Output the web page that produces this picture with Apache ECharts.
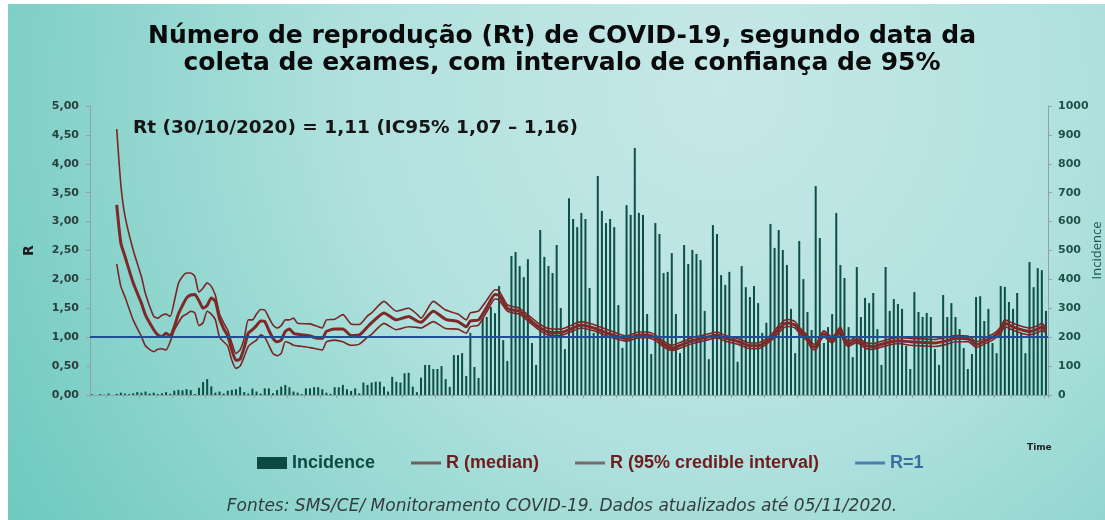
<!DOCTYPE html>
<html>
<head>
<meta charset="utf-8">
<script src="https://cdn.jsdelivr.net/npm/echarts@6/dist/echarts.min.js"></script>
<style>
  html, body { margin: 0; padding: 0; background: #fff; }
  #main { width: 1105px; height: 520px; }
</style>
</head>
<body>
<div id="main"></div>
<script>
// casos por data de coleta (barras, eixo direito)
var incidence = [
  2, 0, 3, 1, 5, 0, 4, 8, 5, 3, 6, 10, 8, 12, 5, 8, 3, 6, 10, 4,
  15, 18, 16, 20, 17, 3, 25, 45, 55, 30, 8, 12, 5, 15, 18, 20, 28, 10, 5, 22,
  12, 5, 23, 23, 6, 17, 29, 35, 27, 12, 8, 3, 23, 23, 27, 27, 20, 8, 4, 27,
  27, 35, 20, 14, 23, 6, 43, 35, 43, 46, 46, 29, 12, 63, 46, 43, 75, 77, 29, 10, 60,
  104, 104, 90, 90, 100, 55, 28, 138, 138, 145, 66, 215, 97, 59, 266, 270, 305, 283, 377, 190,
  118, 481, 495, 446, 408, 470, 180, 104, 571, 478, 446, 422, 519, 301, 159, 681, 609, 581,
  630, 609, 370, 215, 758, 637, 595, 609, 581, 311, 163, 657, 623, 855, 630, 623, 280, 142, 595, 557,
  422, 426, 491, 280, 145, 519, 453, 502, 488, 467, 291, 124, 588, 557, 415, 381, 426,
  200, 115, 446, 373, 339, 377, 318, 215, 250, 592, 509, 571, 502, 450, 298, 145, 533, 401, 287, 225,
  723, 543, 180, 235, 280, 630, 450, 405, 235, 131, 443, 270, 336, 318, 353, 228, 104,
  443, 291, 332, 315, 298, 170, 90, 356, 287, 270, 284, 270, 159, 104, 346, 270, 318, 270, 228, 163,
  90, 142, 339, 342, 256, 298, 180, 145, 377, 374, 322, 298, 353, 215, 145, 460, 373, 439, 432, 291
];
var days = incidence.map(function (v, i) { return 'D' + (i + 1); });

// Rt: dia (indice) e valores
var rIdx = [6, 7, 8, 10, 12, 13, 15, 16, 17, 18, 19, 20, 21, 22, 23, 24, 25, 26, 27, 28, 29, 30,
  31, 32, 33, 34, 35, 36, 37, 38, 39, 40, 41, 42, 43, 44, 45, 46, 47, 48, 49, 50, 53, 55, 56, 57,
  59, 61, 63, 65, 67, 68, 71, 74, 77, 79, 80, 83, 86, 89, 91, 92, 94, 96, 98, 99, 101, 103, 104,
  107, 109, 111, 114, 116, 119, 122, 125, 128, 130, 133, 135, 137, 139, 141, 143, 146, 149, 152,
  154, 157, 160, 162, 165, 167, 169, 171, 172, 174, 175, 176, 177, 178, 180, 182, 183, 184, 186,
  188, 190, 193, 196, 199, 202, 205, 208, 210, 213, 214, 215, 217, 219, 220, 221, 222, 224, 226,
  228, 230, 231, 232];
var rMed = [3.29, 2.63, 2.40, 1.94, 1.59, 1.38, 1.13, 1.04, 1.01, 1.07, 1.02, 1.18, 1.40, 1.55, 1.68,
  1.73, 1.74, 1.63, 1.50, 1.55, 1.68, 1.62, 1.32, 1.15, 1.02, 0.78, 0.60, 0.62, 0.82, 1.07, 1.13,
  1.20, 1.28, 1.27, 1.12, 0.98, 0.92, 0.95, 1.10, 1.14, 1.07, 1.05, 1.02, 0.98, 0.98, 1.10, 1.14,
  1.14, 1.03, 1.04, 1.18, 1.25, 1.42, 1.30, 1.36, 1.28, 1.26, 1.45, 1.31, 1.27, 1.18, 1.28, 1.30,
  1.52, 1.74, 1.72, 1.50, 1.46, 1.45, 1.27, 1.16, 1.09, 1.08, 1.13, 1.21, 1.16, 1.08, 1.01, 0.97,
  1.04, 1.04, 0.99, 0.88, 0.81, 0.86, 0.94, 0.99, 1.04, 0.98, 0.93, 0.85, 0.85, 0.98, 1.14, 1.25,
  1.21, 1.12, 0.98, 0.85, 0.82, 0.97, 1.06, 0.95, 1.13, 0.95, 0.88, 0.96, 0.86, 0.84, 0.90, 0.94,
  0.92, 0.91, 0.90, 0.94, 0.98, 0.97, 0.93, 0.87, 0.93, 1.00, 1.05, 1.12, 1.24, 1.18, 1.13, 1.10,
  1.14, 1.18, 1.11];
var rHigh = [4.60, 3.64, 3.10, 2.51, 2.05, 1.75, 1.36, 1.33, 1.38, 1.40, 1.36, 1.62, 1.93, 2.05, 2.11,
  2.11, 2.05, 1.78, 1.85, 1.94, 1.88, 1.72, 1.40, 1.25, 1.12, 0.90, 0.72, 0.78, 0.98, 1.30, 1.30,
  1.40, 1.48, 1.47, 1.34, 1.21, 1.16, 1.20, 1.30, 1.30, 1.33, 1.24, 1.23, 1.18, 1.16, 1.30, 1.31,
  1.39, 1.23, 1.22, 1.37, 1.42, 1.62, 1.45, 1.50, 1.40, 1.33, 1.62, 1.47, 1.40, 1.30, 1.42, 1.45,
  1.64, 1.82, 1.80, 1.56, 1.52, 1.50, 1.33, 1.22, 1.15, 1.14, 1.19, 1.27, 1.22, 1.14, 1.06, 1.02,
  1.09, 1.09, 1.04, 0.93, 0.86, 0.91, 0.99, 1.04, 1.09, 1.03, 0.98, 0.90, 0.90, 1.03, 1.20, 1.31,
  1.27, 1.17, 1.03, 0.90, 0.87, 1.02, 1.11, 1.00, 1.18, 1.00, 0.93, 1.01, 0.91, 0.89, 0.95, 0.99,
  0.98, 0.97, 0.96, 1.00, 1.03, 1.02, 0.98, 0.92, 0.98, 1.05, 1.10, 1.18, 1.30, 1.24, 1.19, 1.16,
  1.20, 1.24, 1.16];
var rLow = [2.27, 1.88, 1.70, 1.30, 1.01, 0.85, 0.75, 0.79, 0.80, 0.78, 0.92, 1.12, 1.25, 1.36, 1.40,
  1.45, 1.42, 1.20, 1.25, 1.45, 1.40, 1.30, 1.00, 0.92, 0.85, 0.60, 0.46, 0.50, 0.66, 0.84, 0.90,
  0.95, 1.04, 1.00, 0.86, 0.72, 0.68, 0.72, 0.92, 0.90, 0.86, 0.85, 0.82, 0.79, 0.78, 0.92, 0.95,
  0.92, 0.86, 0.88, 1.00, 1.05, 1.24, 1.13, 1.18, 1.17, 1.16, 1.27, 1.15, 1.14, 1.07, 1.18, 1.21,
  1.44, 1.66, 1.64, 1.45, 1.41, 1.40, 1.22, 1.11, 1.04, 1.03, 1.08, 1.16, 1.11, 1.03, 0.96, 0.93,
  0.99, 0.99, 0.94, 0.83, 0.77, 0.81, 0.89, 0.94, 0.99, 0.93, 0.88, 0.80, 0.80, 0.93, 1.08, 1.19,
  1.16, 1.07, 0.93, 0.80, 0.78, 0.92, 1.01, 0.90, 1.08, 0.90, 0.84, 0.91, 0.81, 0.79, 0.85, 0.89,
  0.86, 0.85, 0.84, 0.88, 0.92, 0.92, 0.88, 0.82, 0.88, 0.95, 1.00, 1.06, 1.18, 1.12, 1.07, 1.04,
  1.08, 1.12, 1.07];

function pairs(vals) {
  return rIdx.map(function (d, k) { return [d, vals[k]]; });
}

var myChart = echarts.init(document.getElementById('main'));

var redDark = '#7a2626';
var lineIcon = 'path://M0 0H30V3H0Z';
var option = {
  backgroundColor: '#ffffff',
  animation: false,
  graphic: [
    {
      type: 'rect', z: -10, silent: true,
      shape: { x: 8, y: 4, width: 1097, height: 516 },
      style: {
        fill: new echarts.graphic.RadialGradient(720, 90, 820, [
          { offset: 0, color: '#c6e8e7' },
          { offset: 0.45, color: '#b0e1de' },
          { offset: 1, color: '#6fcabf' }
        ], true)
      }
    },
    {
      type: 'text', x: 562, y: 23, z: 5,
      style: {
        text: 'Número de reprodução (Rt) de COVID-19, segundo data da\ncoleta de exames, com intervalo de confiança de 95%',
        textAlign: 'center',
        fontFamily: 'DejaVu Sans', fontWeight: 'bold', fontSize: 25, lineHeight: 27, fill: '#0a0a0a'
      }
    },
    {
      type: 'text', x: 133, y: 119, z: 5,
      style: {
        text: 'Rt (30/10/2020) = 1,11 (IC95% 1,07 – 1,16)',
        fontFamily: 'DejaVu Sans', fontWeight: 'bold', fontSize: 18.5, fill: '#151515'
      }
    },
    {
      type: 'text', x: 1027, y: 443, z: 5,
      style: { text: 'Time', fontFamily: 'DejaVu Sans', fontWeight: 'bold', fontSize: 9, fill: '#222' }
    },
    {
      type: 'text', x: 562, y: 498, z: 5,
      style: {
        text: 'Fontes: SMS/CE/ Monitoramento COVID-19. Dados atualizados até 05/11/2020.',
        textAlign: 'center',
        fontFamily: 'DejaVu Sans', fontStyle: 'italic', fontSize: 17, fill: '#333d3d'
      }
    }
  ],
  legend: {
    left: 252, top: 449,
    itemWidth: 30, itemHeight: 12, itemGap: 36,
    textStyle: { fontFamily: 'Liberation Sans', fontWeight: 'bold', fontSize: 18 },
    data: [
      { name: 'Incidence', icon: 'rect', itemStyle: { color: '#0b4a42' }, textStyle: { color: '#0e4a44' } },
      { name: 'R (median)', icon: lineIcon, itemStyle: { color: '#6e5e5e' }, textStyle: { color: '#6e1c1c' } },
      { name: 'R (95% credible interval)', icon: lineIcon, itemStyle: { color: '#7a6a6a' }, textStyle: { color: '#6e1c1c' } },
      { name: 'R=1', icon: lineIcon, itemStyle: { color: '#4d7fae' }, textStyle: { color: '#3b6ea0' } }
    ]
  },
  grid: { left: 90, right: 57, top: 106, bottom: 125, outerBoundsMode: 'none', containLabel: false },
  xAxis: {
    type: 'category',
    data: days,
    boundaryGap: true,
    axisLine: { show: true, lineStyle: { color: '#8fa3a3', width: 1 } },
    axisTick: { show: true, interval: 3, length: 3, lineStyle: { color: '#8fa3a3' } },
    axisLabel: { show: false }
  },
  yAxis: [
    {
      type: 'value', min: 0, max: 5, interval: 0.5,
      name: 'R', nameLocation: 'middle', nameGap: 54, nameRotate: 90, nameMoveOverlap: false,
      nameTextStyle: { fontFamily: 'DejaVu Sans', fontWeight: 'bold', fontSize: 14, color: '#1a1a1a' },
      axisLine: { show: true, lineStyle: { color: '#8fa3a3' } },
      axisTick: { show: true, length: 4, lineStyle: { color: '#8fa3a3' } },
      splitLine: { show: false },
      axisLabel: {
        margin: 11, color: '#2c3e3e', fontFamily: 'DejaVu Sans', fontWeight: 'bold', fontSize: 11,
        formatter: function (v) { return v.toFixed(2).replace('.', ','); }
      }
    },
    {
      type: 'value', min: 0, max: 1000, interval: 100, position: 'right',
      name: 'Incidence', nameLocation: 'middle', nameGap: 43, nameRotate: 90, nameMoveOverlap: false,
      nameTextStyle: { fontFamily: 'Open Sans', fontSize: 13, color: '#1d5a50' },
      axisLine: { show: true, lineStyle: { color: '#8fa3a3' } },
      axisTick: { show: true, length: 4, lineStyle: { color: '#8fa3a3' } },
      splitLine: { show: false },
      axisLabel: {
        margin: 10, color: '#1d5248', fontFamily: 'DejaVu Sans', fontWeight: 'bold', fontSize: 11,
        formatter: function (v) { return String(v); }
      }
    }
  ],
  series: [
    {
      name: 'Incidence', type: 'bar', yAxisIndex: 1, barWidth: 2, z: 1,
      itemStyle: { color: '#0d4e46' },
      data: incidence
    },
    {
      name: 'R=1', type: 'line', yAxisIndex: 0, data: [], symbol: 'none', z: 2,
      color: '#1f4f91',
      lineStyle: { color: '#1f4f91', width: 2 },
      markLine: {
        silent: true, symbol: 'none', label: { show: false },
        lineStyle: { color: '#1f4f91', width: 2.2, type: 'solid' },
        data: [{ yAxis: 1 }]
      }
    },
    {
      name: 'R (95% credible interval)', type: 'line', yAxisIndex: 0, symbol: 'none', smooth: 0.2, z: 3,
      color: redDark, lineStyle: { color: redDark, width: 1.6 },
      data: pairs(rHigh)
    },
    {
      name: 'R (95% credible interval)', type: 'line', yAxisIndex: 0, symbol: 'none', smooth: 0.2, z: 3,
      color: redDark, lineStyle: { color: redDark, width: 1.6 },
      data: pairs(rLow)
    },
    {
      name: 'R (median)', type: 'line', yAxisIndex: 0, symbol: 'none', smooth: 0.2, z: 4,
      color: '#7e2828', lineStyle: { color: '#7e2828', width: 3 },
      data: pairs(rMed)
    }
  ]
};

myChart.setOption(option);
</script>
</body>
</html>
